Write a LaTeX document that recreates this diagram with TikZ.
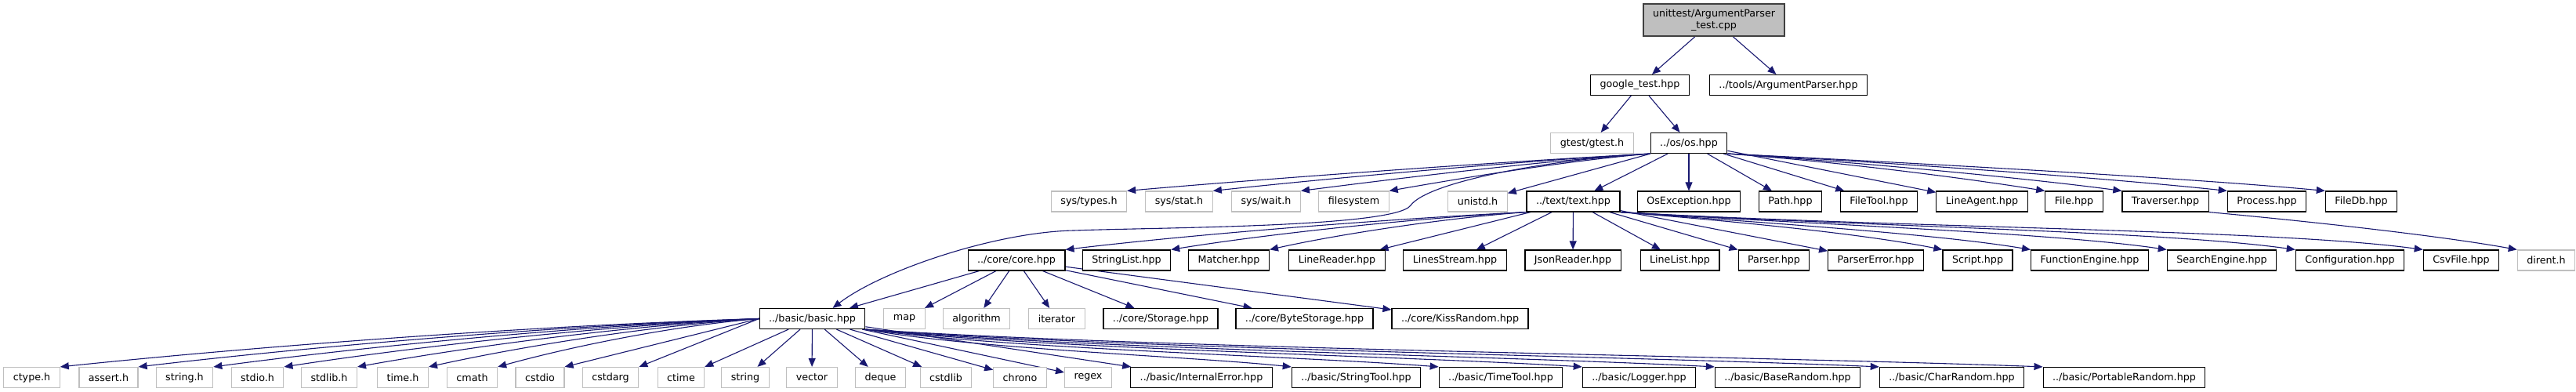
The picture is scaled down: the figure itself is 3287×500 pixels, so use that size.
\documentclass[tikz,border=0pt]{standalone}
\usepackage{fontspec}
\setmainfont{DejaVu Sans}
\usetikzlibrary{arrows.meta,backgrounds}
\definecolor{edgeblue}{HTML}{191970}
\definecolor{grey75}{HTML}{BFBFBF}
\definecolor{grey25}{HTML}{404040}

\begin{document}
\begin{tikzpicture}[x=1pt, y=-1pt,
    box/.style={rectangle, draw=black, fill=white, line width=1.15pt, minimum width=50pt, minimum height=26pt, inner xsep=12pt, inner ysep=0pt, font=\fontsize{12.7}{15}\selectfont},
    sysbox/.style={box, draw=grey75},
    dep/.style={draw=edgeblue, line width=1.1pt, -{Triangle[length=11pt, width=9pt]}}]

    \useasboundingbox (0,0) rectangle (3287,500);

    % Test file
    \node[box, fill=grey75, draw=grey25, minimum height=41pt, align=center] (root) at (2187,25.5) {unittest/ArgumentParser\\\_test.cpp};

    % Direct includes
    \node[box] (google) at (2092.5,108.5) {google\_test.hpp};
    \node[box] (argp) at (2282,108.5) {../tools/ArgumentParser.hpp};

    \node[sysbox] (gtest) at (2031.5,182.5) {gtest/gtest.h};
    \node[box] (os) at (2155,182.5) {../os/os.hpp};

    % os level
    \node[sysbox] (types) at (1389.5,257) {sys/types.h};
    \node[sysbox] (stat) at (1504.5,257) {sys/stat.h};
    \node[sysbox] (wait) at (1615.5,257) {sys/wait.h};
    \node[sysbox] (fsys) at (1727.5,257) {filesystem};
    \node[sysbox] (unistd) at (1885.5,257) {unistd.h};
    \node[box] (text) at (2007.5,257) {../text/text.hpp};
    \node[box] (osexc) at (2155,257) {OsException.hpp};
    \node[box] (path) at (2284.5,257) {Path.hpp};
    \node[box] (ftool) at (2397.5,257) {FileTool.hpp};
    \node[box] (lagent) at (2529,257) {LineAgent.hpp};
    \node[box] (file) at (2646.5,257) {File.hpp};
    \node[box] (trav) at (2763,257) {Traverser.hpp};
    \node[box] (proc) at (2892.5,257) {Process.hpp};
    \node[box] (fdb) at (3013,257) {FileDb.hpp};

    % text level
    \node[box] (core) at (1297,332) {../core/core.hpp};
    \node[box] (slist) at (1437.5,332) {StringList.hpp};
    \node[box] (match) at (1568,332) {Matcher.hpp};
    \node[box] (lreader) at (1706,332) {LineReader.hpp};
    \node[box] (lstream) at (1856.5,332) {LinesStream.hpp};
    \node[box] (jreader) at (2007,332) {JsonReader.hpp};
    \node[box] (llist) at (2143.5,332) {LineList.hpp};
    \node[box] (parser) at (2263.5,332) {Parser.hpp};
    \node[box] (perror) at (2393.5,332) {ParserError.hpp};
    \node[box] (script) at (2523.5,332) {Script.hpp};
    \node[box] (fengine) at (2666.5,332) {FunctionEngine.hpp};
    \node[box] (sengine) at (2835,332) {SearchEngine.hpp};
    \node[box] (config) at (2998.5,332) {Configuration.hpp};
    \node[box] (csv) at (3140.5,332) {CsvFile.hpp};
    \node[sysbox] (dirent) at (3249,332) {dirent.h};

    % core level
    \node[box] (basic) at (1036.5,406.5) {../basic/basic.hpp};
    \node[sysbox] (map) at (1154,406.5) {map};
    \node[sysbox] (algo) at (1246,406.5) {algorithm};
    \node[sysbox] (iter) at (1348.5,406.5) {iterator};
    \node[box] (storage) at (1481,406.5) {../core/Storage.hpp};
    \node[box] (bstorage) at (1664.5,406.5) {../core/ByteStorage.hpp};
    \node[box] (kiss) at (1863,406.5) {../core/KissRandom.hpp};

    % basic level
    \node[sysbox] (ctype) at (40.5,481.5) {ctype.h};
    \node[sysbox] (assert) at (138.5,481.5) {assert.h};
    \node[sysbox] (stringh) at (235.5,481.5) {string.h};
    \node[sysbox] (stdio) at (328.5,481.5) {stdio.h};
    \node[sysbox] (stdlib) at (420,481.5) {stdlib.h};
    \node[sysbox] (timeh) at (514,481.5) {time.h};
    \node[sysbox] (cmath) at (602.5,481.5) {cmath};
    \node[sysbox] (cstdio) at (689,481.5) {cstdio};
    \node[sysbox] (cstdarg) at (779,481.5) {cstdarg};
    \node[sysbox] (ctime) at (869,481.5) {ctime};
    \node[sysbox] (string) at (951,481.5) {string};
    \node[sysbox] (vector) at (1036,481.5) {vector};
    \node[sysbox] (deque) at (1123.5,481.5) {deque};
    \node[sysbox] (cstdlib) at (1207,481.5) {cstdlib};
    \node[sysbox] (chrono) at (1301.5,481.5) {chrono};
    \node[sysbox] (regex) at (1388.5,481.5) {regex};
    \node[box] (interr) at (1533,481.5) {../basic/InternalError.hpp};
    \node[box] (stool) at (1730.5,481.5) {../basic/StringTool.hpp};
    \node[box] (ttool) at (1915,481.5) {../basic/TimeTool.hpp};
    \node[box] (logger) at (2091.5,481.5) {../basic/Logger.hpp};
    \node[box] (brand) at (2281,481.5) {../basic/BaseRandom.hpp};
    \node[box] (crand) at (2490.5,481.5) {../basic/CharRandom.hpp};
    \node[box] (prand) at (2710.5,481.5) {../basic/PortableRandom.hpp};

    \begin{scope}[on background layer]
    % Includes of the test file
    \draw[dep] (root) -- (google);
    \draw[dep] (root) -- (argp);
    \draw[dep] (google) -- (gtest);
    \draw[dep] (google) -- (os);

    % Includes of os.hpp
    \draw[dep] (os.south west) .. controls +(-220,12) and +(160,-14) .. (types.north east);
    \draw[dep] (os.south west) .. controls +(-190,11) and +(130,-14) .. (stat.north east);
    \draw[dep] (os.south west) .. controls +(-150,10) and +(110,-14) .. (wait.north east);
    \draw[dep] (os.south west) .. controls +(-110,9) and +(80,-14) .. (fsys.north east);
    \draw[dep] (os) -- (unistd);
    \draw[dep] (os) -- (text);
    \draw[dep] (os) -- (osexc);
    \draw[dep] (os) -- (path);
    \draw[dep] (os) -- (ftool);
    \draw[dep] (os) -- (lagent);
    \draw[dep] (os.south east) .. controls +(140,10) and +(-100,-16) .. (file.north west);
    \draw[dep] (os.south east) .. controls +(170,11) and +(-120,-16) .. (trav.north west);
    \draw[dep] (os.south east) .. controls +(220,12) and +(-150,-16) .. (proc.north west);
    \draw[dep] (os.south east) .. controls +(260,13) and +(-170,-16) .. (fdb.north west);
    \draw[dep] (os.south west) .. controls (1960,205) and (1820,234) .. (1800,262)
        .. controls (1780,290) and (1480,290) .. (1370,294)
        .. controls (1270,296) and (1125,345) .. ([xshift=26pt]basic.north);
    \draw[dep] (trav.south east) .. controls +(130,12) and +(-100,-18) .. (dirent.north west);

    % Includes of text.hpp
    \draw[dep] (text.south west) .. controls +(-200,10) and +(150,-18) .. (core.north east);
    \draw[dep] (text.south west) .. controls +(-160,9) and +(110,-18) .. (slist.north east);
    \draw[dep] (text.south west) .. controls +(-110,8) and +(80,-18) .. (match.north east);
    \draw[dep] (text) -- (lreader);
    \draw[dep] (text) -- (lstream);
    \draw[dep] (text) -- (jreader);
    \draw[dep] (text) -- (llist);
    \draw[dep] (text) -- (parser);
    \draw[dep] (text) -- (perror);
    \draw[dep] (text.south east) .. controls +(150,12) and +(-100,-20) .. (script.north west);
    \draw[dep] (text.south east) .. controls +(190,14) and +(-120,-20) .. (fengine.north west);
    \draw[dep] (text.south east) .. controls +(250,16) and +(-150,-22) .. (sengine.north west);
    \draw[dep] (text.south east) .. controls +(300,18) and +(-170,-24) .. (config.north west);
    \draw[dep] (text.south east) .. controls +(350,20) and +(-190,-26) .. (csv.north west);

    % Includes of core.hpp
    \draw[dep] (core) -- (basic);
    \draw[dep] (core) -- (map);
    \draw[dep] (core) -- (algo);
    \draw[dep] (core) -- (iter);
    \draw[dep] (core) -- (storage);
    \draw[dep] (core) -- (bstorage);
    \draw[dep] (core) -- (kiss);

    % Includes of basic.hpp
    \draw[dep] (basic.west) .. controls +(-294,9) and +(250,-26) .. (ctype.north east);
    \draw[dep] (basic.west) .. controls +(-262,9) and +(222,-26) .. (assert.north east);
    \draw[dep] (basic.west) .. controls +(-230,9) and +(195,-26) .. (stringh.north east);
    \draw[dep] (basic.west) .. controls +(-200,9) and +(170,-26) .. (stdio.north east);
    \draw[dep] (basic.west) .. controls +(-170,9) and +(144,-26) .. (stdlib.north east);
    \draw[dep] (basic.west) .. controls +(-140,9) and +(118,-26) .. (timeh.north east);
    \draw[dep] (basic.west) .. controls +(-110,9) and +(94,-26) .. (cmath.north east);
    \draw[dep] (basic.west) -- (cstdio.north east);
    \draw[dep] (basic.west) -- (cstdarg.north east);
    \draw[dep] (basic) -- (ctime);
    \draw[dep] (basic) -- (string);
    \draw[dep] (basic) -- (vector);
    \draw[dep] (basic) -- (deque);
    \draw[dep] (basic) -- (cstdlib);
    \draw[dep] (basic) -- (chrono);
    \draw[dep] (basic) -- (regex);
    \draw[dep] (basic) -- (interr);
    \draw[dep] (basic.south east) .. controls +(136,25) and +(-136,-14) .. (stool.north west);
    \draw[dep] (basic.south east) .. controls +(183,25) and +(-183,-14) .. (ttool.north west);
    \draw[dep] (basic.south east) .. controls +(229,25) and +(-229,-14) .. (logger.north west);
    \draw[dep] (basic.south east) .. controls +(271,25) and +(-271,-14) .. (brand.north west);
    \draw[dep] (basic.south east) .. controls +(324,25) and +(-324,-14) .. (crand.north west);
    \draw[dep] (basic.south east) .. controls +(375,25) and +(-375,-14) .. (prand.north west);
    \end{scope}
\end{tikzpicture}
\end{document}
